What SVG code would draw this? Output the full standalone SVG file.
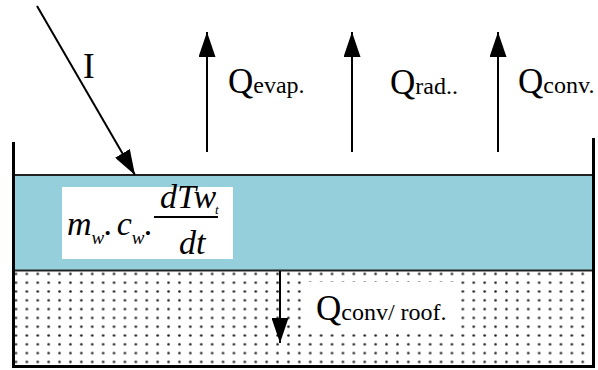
<svg xmlns="http://www.w3.org/2000/svg" width="598" height="370" viewBox="0 0 598 370">
<style>
.q{font-family:"Liberation Serif","Times New Roman",serif;fill:#000}
.big{font-size:35px}
.sub{font-size:24px}
.m{font-family:"Liberation Serif","Times New Roman",serif;font-style:italic;font-size:34px;fill:#000}
.ms{font-family:"Liberation Serif","Times New Roman",serif;font-style:italic;font-size:19px;fill:#000}
.arr{stroke:#000;stroke-width:2;fill:none}
</style>
<defs>
<pattern id="dots" patternUnits="userSpaceOnUse" x="10.5" y="269.5" width="10.9" height="8.8">
<rect width="10.9" height="8.8" fill="#fff"/>
<circle cx="5.45" cy="4.4" r="1.3" fill="#222"/>
</pattern>
<marker id="ah" viewBox="0 0 25 17" refX="25" refY="8.5" markerWidth="25" markerHeight="17" markerUnits="userSpaceOnUse" orient="auto">
<path d="M0,0 L25,8.5 L0,17 Z" fill="#000"/>
</marker>
</defs>
<g id="water">
<rect x="14" y="175" width="579" height="95" fill="#96cfdc"/>
<line x1="14" y1="175" x2="593" y2="175" stroke="#222" stroke-width="2"/>
</g>
<g id="roof">
<rect x="14" y="271" width="579" height="95" fill="url(#dots)"/>
<line x1="14" y1="270.5" x2="593" y2="270.5" stroke="#222" stroke-width="2"/>
</g>
<g id="walls">
<polyline points="13.5,142 13.5,366.5 593.5,366.5 593.5,138" fill="none" stroke="#000" stroke-width="3"/>
</g>
<g id="connectors">
<line class="arr" x1="37" y1="6" x2="135" y2="175" marker-end="url(#ah)"/>
<line class="arr" x1="207" y1="152" x2="207" y2="32" marker-end="url(#ah)"/>
<line class="arr" x1="352" y1="152" x2="352" y2="32" marker-end="url(#ah)"/>
<line class="arr" x1="498" y1="152" x2="498" y2="32" marker-end="url(#ah)"/>
<line class="arr" x1="280" y1="271" x2="280" y2="343" marker-end="url(#ah)"/>
</g>
<g id="label-I"><text class="q big" x="83" y="78">I</text></g>
<g id="label-evap"><text class="q" x="228" y="93"><tspan class="big">Q</tspan><tspan class="sub">evap.</tspan></text></g>
<g id="label-rad"><text class="q" x="390" y="94"><tspan class="big">Q</tspan><tspan class="sub">rad..</tspan></text></g>
<g id="label-conv"><text class="q" x="518" y="93"><tspan class="big">Q</tspan><tspan class="sub">conv.</tspan></text></g>
<g id="label-roof">
<rect x="305" y="282" width="155" height="51" fill="#fff"/>
<text class="q" x="316" y="320"><tspan class="big">Q</tspan><tspan class="sub">conv/ roof.</tspan></text>
</g>
<g id="formula">
<rect x="62" y="187" width="171" height="72" fill="#fff"/>
<text class="m" x="67" y="235">m<tspan class="ms" dy="9">w</tspan><tspan dy="-9">.</tspan><tspan dx="4">c</tspan><tspan class="ms" dy="9">w</tspan><tspan dy="-9">.</tspan></text>
<text class="m" x="160" y="208">dTw<tspan class="ms" dx="-1" dy="6" style="font-size:13px">t</tspan></text>
<line x1="154" y1="217" x2="218" y2="217" stroke="#000" stroke-width="2.2"/>
<text class="m" x="179" y="254">dt</text>
</g>
</svg>
